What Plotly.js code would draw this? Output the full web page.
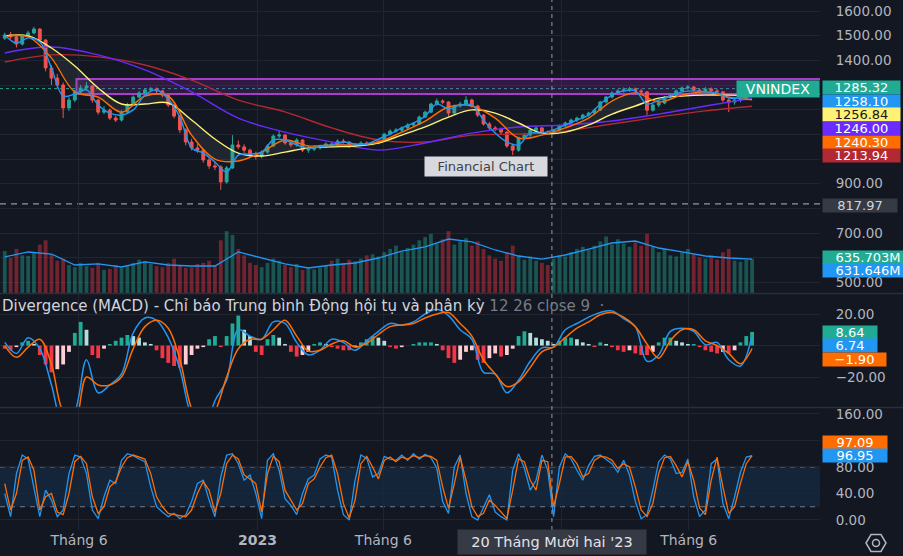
<!DOCTYPE html>
<html><head><meta charset="utf-8">
<script src="https://cdn.plot.ly/plotly-3.0.1.min.js"></script>
<style>html,body{margin:0;padding:0;background:#131722;overflow:hidden}#chart{width:903px;height:556px}</style>
</head><body><div id="chart"></div>
<script>
// ---------- DATA (weekly bars) ----------
const firstBar = '2022-03-04';
const open = [1490,1503,1495,1466,1499,1511,1527,1482,1369,1328,
1300,1207,1239,1272,1288,1296,1239,1190,1198,1166,
1158,1190,1219,1251,1268,1280,1284,1276,1259,1219,
1174,1118,1069,1045,1036,996,972,968,907,964,
1057,1049,1036,1016,1010,1028,1053,1093,1097,1065,
1057,1077,1036,1040,1045,1050,1061,1057,1073,1069,
1053,1058,1065,1062,1065,1077,1101,1113,1117,1126,
1138,1142,1170,1190,1223,1235,1231,1186,1215,1223,
1239,1215,1178,1142,1126,1122,1109,1053,1036,1085,
1097,1117,1126,1109,1105,1117,1134,1146,1158,1166,
1178,1186,1198,1231,1251,1268,1276,1280,1284,1276,
1272,1198,1219,1227,1251,1259,1276,1288,1292,1280,
1276,1284,1276,1272,1239,1231,1239,1243,1264];
const high = [1512,1515,1500,1505,1520,1536,1530,1486,1380,1345,
1310,1250,1280,1300,1312,1300,1245,1215,1205,1175,
1198,1228,1258,1276,1288,1292,1290,1280,1262,1224,
1178,1125,1082,1060,1040,1005,990,975,972,1097,
1075,1060,1042,1030,1035,1060,1100,1117,1102,1075,
1085,1080,1050,1055,1058,1068,1070,1080,1082,1072,
1063,1072,1072,1070,1082,1106,1120,1125,1132,1145,
1150,1176,1196,1228,1245,1242,1234,1220,1232,1255,
1245,1220,1182,1150,1134,1128,1112,1062,1090,1105,
1122,1132,1130,1116,1122,1140,1152,1164,1172,1184,
1192,1205,1236,1256,1275,1283,1290,1292,1290,1285,
1276,1226,1235,1256,1266,1282,1294,1300,1296,1288,
1292,1290,1284,1276,1245,1246,1252,1270,1290];
const low = [1482,1486,1452,1460,1492,1505,1474,1355,1300,1285,
1166,1195,1230,1262,1278,1228,1180,1182,1158,1150,
1152,1185,1214,1245,1262,1270,1266,1250,1210,1165,
1105,1055,1035,1025,985,960,955,875,900,960,
1040,1025,1005,998,1002,1022,1048,1085,1058,1048,
1050,1028,1025,1032,1038,1044,1050,1052,1062,1045,
1046,1052,1056,1055,1060,1072,1095,1106,1110,1120,
1130,1138,1165,1186,1216,1222,1172,1180,1208,1218,
1208,1170,1135,1115,1112,1098,1045,1016,1030,1078,
1090,1110,1100,1098,1100,1112,1128,1140,1150,1160,
1172,1180,1194,1225,1245,1262,1270,1272,1268,1262,
1178,1192,1210,1222,1245,1254,1270,1280,1272,1268,
1270,1268,1262,1230,1190,1220,1230,1238,1258];
const close = [1503,1495,1466,1499,1511,1527,1482,1369,1328,1300,
1207,1239,1272,1288,1296,1239,1190,1198,1166,1158,
1190,1219,1251,1268,1280,1284,1276,1259,1219,1174,
1118,1069,1045,1036,996,972,968,907,964,1057,
1049,1036,1016,1010,1028,1053,1093,1097,1065,1057,
1077,1036,1040,1045,1050,1061,1057,1073,1069,1053,
1058,1065,1062,1065,1077,1101,1113,1117,1126,1138,
1142,1170,1190,1223,1235,1231,1186,1215,1223,1239,
1215,1178,1142,1126,1122,1109,1053,1036,1085,1097,
1117,1126,1109,1105,1117,1134,1146,1158,1166,1178,
1186,1198,1231,1251,1268,1276,1280,1284,1276,1272,
1198,1219,1227,1251,1259,1276,1288,1292,1280,1276,
1284,1276,1272,1239,1231,1239,1243,1264,1285.32];
// volume, millions
const volume = [780,650,820,700,690,760,900,980,720,600,
640,520,480,560,500,470,560,430,450,520,
470,510,560,620,590,540,500,480,560,640,
520,470,480,540,560,600,520,980,1150,1080,
820,700,560,520,480,560,640,600,520,480,
540,430,460,440,470,520,600,640,560,620,
590,640,700,720,680,760,820,880,760,840,
900,980,1040,1100,920,1000,1150,900,960,1020,
880,960,820,700,640,600,760,880,700,620,
680,600,560,520,640,700,680,760,820,860,
800,880,960,1050,900,1000,920,860,940,880,
1100,860,760,820,700,680,760,820,720,660,
640,700,620,760,820,600,580,620,635.703];
const volumeMA = [670,763,725,521,540,484,577,521,502,502,763,651,540,465,521,558,651,781,856,1004,949,800,688,632,707,818,930,967,837,763,688,651,631.646]; // every 4 bars
const maBlue = [1503,1470,1491,1474,1369,1255,1264,1280,1219,1186,
1178,1199,1259,1280,1243,1170,1045,1024,988,947,
1016,1020,1028,1077,1077,1057,1045,1049,1057,1069,
1061,1061,1081,1101,1126,1146,1174,1223,1203,1219,
1219,1158,1105,1069,1057,1105,1105,1118,1138,1158,
1178,1223,1259,1276,1276,1223,1239,1255,1272,1276,
1272,1268,1247,1247,1258.10]; // every 2 bars
const maOrange = [1495,1495,1409,1272,1251,1190,1255,1255,1097,1000,992,1028,1077,1053,1057,1057,1069,1109,1154,1211,1215,1166,1085,1097,1126,1166,1235,1268,1231,1259,1272,1251,1240.30]; // every 4
const maYellow = [1499,1499,1450,1377,1288,1223,1223,1227,1158,1081,1024,1012,1028,1045,1049,1053,1065,1097,1130,1170,1199,1186,1146,1105,1109,1138,1182,1215,1247,1255,1259,1259,1256.84]; // every 4
const maPurple = [1430,1454,1422,1361,1272,1166,1109,1069,1036,1065,1105,1130,1138,1154,1182,1215,1246.00]; // every 8
const maRed = [1393,1422,1414,1381,1320,1239,1191,1126,1077,1069,1097,1101,1113,1142,1170,1195,1213.94]; // every 8
const macdLine = [2,-5,5,-2,-25,-50,-42,-9,-30,-25,
-18,8,17.5,16,5,-15,-45,-55,-35,-22,
10,6,4,15,14,2,-6,-3,4,2,
-3,3,9,14,13,15,20,23,19,10,
4,-17,-18,-30,-22,-10,-1.5,-1,10,14,
18,21,22,17,12,-10,-6,9,11,9,
0.5,2,-9,-13,6.74]; // every 2
const signalLine = [0,-7.5,-1,4,-12,-42,-48,-20,-25,-25,
-20,-2,12,16,11,-9,-40,-52,-42,-20,
-2,4,4,10,16,6,-3.5,-3,1,3,
-1,1.5,7,12,13,14,17.5,20,21,14,
6,-9,-18,-26,-23,-14,-4,-1,5,11,
15,19.5,21,18,12,1,-8,3,10,10,
3,0,-5,-11.5,-1.90]; // every 2
const macdHist = [-2,-3,-1,2,3,1,-6,-12,-17,-15,
-12,-4,8,15,10,-6,-8,-2,1,3,
5,6.7,6,5,2,1,-3,-8,-11,-13,
-14,-12,-6,-2,-1,4,6,-1,6,14,
19,10,6,-4,-6,4,6.7,5,1,-4,
-7,-6,-4,1,2,1,-1,-2,-3,-3,
-1,2,4,6,5,3,-1,-2,-1,0,
1,2,2,2,1,-3,-8,-11,-9,-4,
-3,-9,-11,-8,-5,-7,-6,-2,6,9,
8,5,4,3,1,3,5,5,4,2,
1,-1,2,1,-1,-3,-4,-3,-5,-6,
-6,-4,2,5,5,3,2,1,1,-1,
-3,-4,-5,-4,-5,-3,2,6,8.64];
const stochK = [40,5,70,98,92,50,5,45,30,5,
15,70,98,95,70,15,2,35,60,55,
90,100,97,92,88,50,20,12,5,10,
2,8,28,55,60,30,5,65,98,100,
85,60,68,40,2,90,100,75,32,22,
8,40,62,68,92,98,95,45,8,0,
60,98,93,65,70,96,92,90,98,90,
100,92,99,94,78,28,10,80,98,40,
5,0,20,38,12,5,0,75,100,78,
45,60,98,75,5,80,100,92,75,60,
82,96,98,92,85,72,90,68,28,2,
8,45,88,98,92,70,72,92,35,5,
15,85,92,25,2,35,72,95,96.95];
const stochD = [55,15,40,90,95,75,15,35,40,12,
8,40,88,96,85,35,10,20,50,58,
80,94,98,95,92,70,35,20,10,8,
6,5,15,40,58,45,12,40,85,98,
92,68,62,55,12,70,96,88,45,30,
15,25,55,62,80,94,98,70,25,3,
30,85,96,80,62,90,95,88,95,92,
97,94,97,96,90,50,18,55,95,60,
20,5,10,30,22,12,2,45,92,88,
60,45,90,88,20,55,95,96,85,65,
70,90,96,95,90,78,85,80,50,15,
5,25,70,94,96,82,65,88,60,18,
8,60,95,50,10,20,55,85,97.09];
const tickDates = ['2022-06-01','2023-01-01','2023-06-01','2024-01-01','2024-06-01'];
const tickLabels = ['Tháng 6','<b>2023</b>','Tháng 6','','Tháng 6']; // 2024 hidden under crosshair label
const priceTicks = [500,600,700,800,900,1000,1100,1200,1300,1400,1500,1600];
const priceTickText = ['500.00','','700.00','','900.00','','','','','1400.00','1500.00','1600.00']; // others hidden under tags
const macdTicks = [-20,0,20];
const macdTickText = ['\u221220.00','','20.00'];
const stochTicks = [0,40,80,120,160];
const stochTickText = ['0.00','40.00','80.00','','160.00'];
const crosshairDate = '2023-12-20';
const crosshairLabel = "20 Tháng Mười hai '23";
const zoneStart = '2022-05-29', zoneTop = 1324, zoneBottom = 1264;
const supportLevel = 817.97;
const symbol = 'VNINDEX';
const watermark = 'Financial Chart';
const macdTitle = 'Divergence (MACD) - Chỉ báo Trung bình Động hội tụ và phân kỳ';
const macdParams = '12 26 close 9';

// ---------- BUILD ----------
const DAY = 86400000, t0 = Date.parse(firstBar + 'T00:00:00Z');
const dates = close.map((_, i) => new Date(t0 + i * 7 * DAY).toISOString().slice(0, 10));
const at = (arr, step) => arr.map((_, k) => dates[k * step]);
const last = a => a[a.length - 1];
const PW = 820, PH = 530;
const px = p => p / PW, py = p => (PH - p) / PH;
const F = 'DejaVu Sans';
const UP = '#26a69a', DN = '#ef5350';
const C = {blue:'#2196f3', orange:'#ff6d00', yellow:'#fff176', purple:'#6a2bff', red:'#b22833', green:'#22ab94'};

const volColors = close.map((c, i) => c >= open[i] ? 'rgba(34,171,148,0.42)' : 'rgba(242,54,69,0.42)');
const histColors = macdHist.map((v, i) => { const p = i ? macdHist[i-1] : v;
  if (v >= 0) return v >= p ? '#22ab94' : '#b2dfdb'; return v <= p ? '#f23645' : '#ffcdd2'; });

const traces = [
  {type:'bar', x:dates, y:volume, xaxis:'x', yaxis:'y4', marker:{color:volColors}, hoverinfo:'skip'},
  {type:'scatter', mode:'lines', x:at(volumeMA,4), y:volumeMA, xaxis:'x', yaxis:'y4', line:{color:C.blue, width:1.3}, hoverinfo:'skip'},
  {type:'scatter', mode:'lines', x:at(maYellow,4), y:maYellow, yaxis:'y', line:{width:0, shape:'spline'}, hoverinfo:'skip'},
  {type:'scatter', mode:'lines', x:at(maOrange,4), y:maOrange, yaxis:'y', line:{width:0, shape:'spline'}, fill:'tonexty', fillcolor:'rgba(120,135,140,0.13)', hoverinfo:'skip'},
  {type:'candlestick', x:dates, open, high, low, close, xaxis:'x', yaxis:'y', whiskerwidth:0,
    increasing:{line:{color:UP, width:1}, fillcolor:UP}, decreasing:{line:{color:DN, width:1}, fillcolor:DN}, hoverinfo:'skip'},
  {type:'scatter', mode:'lines', x:at(maRed,8), y:maRed, yaxis:'y', line:{color:C.red, width:1.4, shape:'spline'}, hoverinfo:'skip'},
  {type:'scatter', mode:'lines', x:at(maPurple,8), y:maPurple, yaxis:'y', line:{color:C.purple, width:1.4, shape:'spline'}, hoverinfo:'skip'},
  {type:'scatter', mode:'lines', x:at(maYellow,4), y:maYellow, yaxis:'y', line:{color:C.yellow, width:1.4, shape:'spline'}, hoverinfo:'skip'},
  {type:'scatter', mode:'lines', x:at(maOrange,4), y:maOrange, yaxis:'y', line:{color:C.orange, width:1.4, shape:'spline'}, hoverinfo:'skip'},
  {type:'scatter', mode:'lines', x:at(maBlue,2), y:maBlue, yaxis:'y', line:{color:C.blue, width:1.4, shape:'spline'}, hoverinfo:'skip'},
  {type:'bar', x:dates, y:macdHist, xaxis:'x', yaxis:'y2', marker:{color:histColors}, hoverinfo:'skip'},
  {type:'scatter', mode:'lines', x:at(macdLine,2), y:macdLine, yaxis:'y2', line:{color:C.blue, width:1.5, shape:'spline'}, hoverinfo:'skip'},
  {type:'scatter', mode:'lines', x:at(signalLine,2), y:signalLine, yaxis:'y2', line:{color:C.orange, width:1.5, shape:'spline'}, hoverinfo:'skip'},
  {type:'scatter', mode:'lines', x:dates, y:stochK, yaxis:'y3', line:{color:C.blue, width:1.3}, hoverinfo:'skip'},
  {type:'scatter', mode:'lines', x:dates, y:stochD, yaxis:'y3', line:{color:C.orange, width:1.3}, hoverinfo:'skip'}
];

const grid = '#21252f', tickCol = '#b2b5be';
const yCommon = {side:'right', tickmode:'array', gridcolor:grid, zeroline:false, showline:false,
  ticks:'outside', ticklen:12, tickcolor:'rgba(0,0,0,0)', tickfont:{family:F, size:13.5, color:tickCol}, fixedrange:true, anchor:'x'};

function tag(text, yPx, bg, fg, w) {
  return {xref:'paper', yref:'paper', x:px(822), y:py(yPx), xanchor:'left', yanchor:'middle', text, showarrow:false,
    bgcolor:bg, font:{family:F, size:13, color:fg}, borderpad:2, width:w, height:9, align:'center', valign:'middle'};
}
const f2 = v => v < 0 ? '\u2212' + Math.abs(v).toFixed(2) : v.toFixed(2);

const annotations = [
  tag(f2(last(close)), 88, C.green, '#fff', 73),
  tag(f2(last(maBlue)), 101.5, C.blue, '#fff', 73),
  tag(f2(last(maYellow)), 115, C.yellow, '#131722', 73),
  tag(f2(last(maPurple)), 128.5, C.purple, '#fff', 73),
  tag(f2(last(maOrange)), 142, C.orange, '#fff', 73),
  tag(f2(last(maRed)), 155.5, C.red, '#fff', 73),
  tag(f2(supportLevel), 205, '#363a45', '#d1d4dc', 70),
  tag(last(volume).toFixed(3) + 'M', 257.5, C.green, '#fff', 86),
  tag(last(volumeMA).toFixed(3) + 'M', 270.5, C.blue, '#fff', 86),
  tag(f2(last(macdHist)), 332, C.green, '#fff', 50),
  tag(f2(last(macdLine)), 345.5, C.blue, '#fff', 50),
  tag(f2(last(signalLine)), 359, C.orange, '#fff', 59),
  tag(f2(last(stochD)), 442, C.orange, '#fff', 60),
  tag(f2(last(stochK)), 455, C.blue, '#fff', 60),
  {xref:'paper', yref:'paper', x:1, y:py(89), xanchor:'right', yanchor:'middle', text:symbol, showarrow:false,
    bgcolor:C.green, font:{family:F, size:14, color:'#fff'}, borderpad:3, width:76, height:10},
  {xref:'paper', yref:'paper', x:px(486), y:py(166), xanchor:'center', yanchor:'middle', text:watermark, showarrow:false,
    bgcolor:'#d7d9df', font:{family:F, size:13, color:'#3d404a'}, borderpad:2, width:118},
  {xref:'paper', yref:'paper', x:0, y:py(306), xanchor:'left', yanchor:'middle', showarrow:false,
    text: macdTitle + ' <span style="color:#787b86">' + macdParams + '</span>  <span style="color:#787b86">·</span>',
    font:{family:F, size:15, color:'#d1d4dc'}},
  {xref:'x', yref:'paper', x:crosshairDate, y:py(542), xanchor:'center', yanchor:'middle', text:crosshairLabel, showarrow:false,
    bgcolor:'#363a45', font:{family:F, size:14.5, color:'#e0e3eb'}, borderpad:4, width:180}
];

const hexPts = [[866,543],[871,534.5],[881,534.5],[886,543],[881,551.5],[871,551.5]];
const hexPath = 'M' + hexPts.map(p => px(p[0]) + ',' + py(p[1])).join('L') + 'Z';

const shapes = [
  {type:'rect', xref:'x', yref:'y', x0:zoneStart, x1:'2025-06-01', y0:zoneBottom, y1:zoneTop,
    fillcolor:'rgba(156,39,176,0.22)', line:{color:'#a63fc7', width:2}, layer:'between'},
  {type:'line', xref:'paper', yref:'y', x0:0, x1:1, y0:last(close), y1:last(close), line:{color:C.green, width:1, dash:'dot'}, layer:'between'},
  {type:'line', xref:'paper', yref:'y', x0:0, x1:1, y0:supportLevel, y1:supportLevel, line:{color:'#9598a1', width:1.3, dash:'6px,5px'}, layer:'between'},
  {type:'rect', xref:'paper', yref:'y3', x0:0, x1:1, y0:20, y1:80, fillcolor:'rgba(33,150,243,0.11)', line:{width:0}, layer:'between'},
  {type:'line', xref:'paper', yref:'y3', x0:0, x1:1, y0:80, y1:80, line:{color:'#787b86', width:1, dash:'5px,5px'}, layer:'between'},
  {type:'line', xref:'paper', yref:'y3', x0:0, x1:1, y0:20, y1:20, line:{color:'#787b86', width:1, dash:'5px,5px'}, layer:'between'},
  {type:'line', xref:'paper', yref:'paper', x0:0, x1:1.2, y0:py(293.5), y1:py(293.5), line:{color:'#2a2e39', width:1.5}},
  {type:'line', xref:'paper', yref:'paper', x0:0, x1:1.2, y0:py(407.5), y1:py(407.5), line:{color:'#2a2e39', width:1.5}},
  {type:'line', xref:'x', yref:'paper', x0:crosshairDate, x1:crosshairDate, y0:0, y1:1, line:{color:'#9598a1', width:1, dash:'4px,4px'}, layer:'above'},
  {type:'path', xref:'paper', yref:'paper', path:hexPath, line:{color:'#b2b5be', width:1.5}},
  {type:'circle', xref:'paper', yref:'paper', x0:px(872.5), x1:px(879.5), y0:py(546.5), y1:py(539.5), line:{color:'#b2b5be', width:1.5}}
];

const layout = {
  width:903, height:556, margin:{l:0, r:83, t:0, b:26},
  paper_bgcolor:'#131722', plot_bgcolor:'#131722', showlegend:false, hovermode:false, bargap:0.35,
  font:{family:F, color:tickCol},
  xaxis:{type:'date', range:['2022-02-26 07:00','2024-11-05 10:00'], domain:[0,1], anchor:'y3',
    tickmode:'array', tickvals:tickDates, ticktext:tickLabels, showgrid:true, gridcolor:grid, zeroline:false,
    showline:false, ticks:'', tickfont:{family:F, size:14, color:tickCol}, rangeslider:{visible:false}, fixedrange:true},
  yaxis:Object.assign({}, yCommon, {domain:[py(293), 1], range:[456.8, 1644.6], tickvals:priceTicks, ticktext:priceTickText}),
  yaxis2:Object.assign({}, yCommon, {domain:[py(407), py(294)], range:[-39, 32.7], tickvals:macdTicks, ticktext:macdTickText}),
  yaxis3:Object.assign({}, yCommon, {domain:[0, py(408)], range:[-15.1, 169], tickvals:stochTicks, ticktext:stochTickText}),
  yaxis4:{overlaying:'y', range:[0, 5450], visible:false, fixedrange:true},
  annotations, shapes
};

Plotly.newPlot('chart', traces, layout, {displayModeBar:false, staticPlot:true});
</script>
</body></html>
